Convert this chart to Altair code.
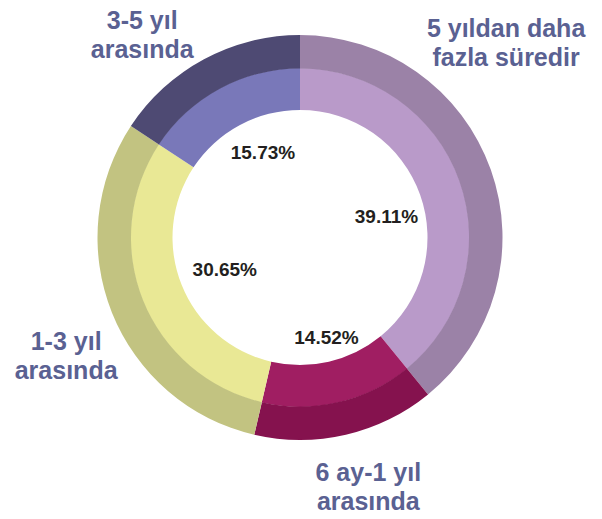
import math
import altair as alt
import pandas as pd

# ---- data ----
categories = ["5 yıldan daha fazla süredir", "6 ay-1 yıl arasında", "1-3 yıl arasında", "3-5 yıl arasında"]
labels = ["5 yıldan daha\nfazla süredir", "6 ay-1 yıl\narasında", "1-3 yıl\narasında", "3-5 yıl\narasında"]
values = [39.11, 14.52, 30.65, 15.73]
pct_text = ["39.11%", "14.52%", "30.65%", "15.73%"]

# ---- style ----
inner_colors = ["#B99AC9", "#A01E62", "#E9E895", "#7978B9"]
outer_colors = ["#9B82A7", "#85124E", "#C2C381", "#4E4A73"]
label_color = "#5A6192"
FONT = "Liberation Sans"
# per-label fine offsets (layout styles)
outer_offsets = {categories[0]: (-20, -128), categories[1]: (14, 2),
                 categories[2]: (-11, 15), categories[3]: (-44, -5)}
pct_offsets = {categories[0]: (-3, 11), categories[1]: (5, 8),
               categories[2]: (13, -3), categories[3]: (8, -1)}

starts, ends = [], []
acc = 0.0
for v in values:
    starts.append(acc)
    acc += v
    ends.append(acc)
total = acc

df = pd.DataFrame({
    "cat": categories,
    "label": labels,
    "value": values,
    "pct": pct_text,
    "start": starts,
    "end": ends,
    "mid": [(s + e) / 2 for s, e in zip(starts, ends)],
})

theta_scale = alt.Scale(domain=[0, total], range=[0, 2 * math.pi], nice=False, zero=True)
base = alt.Chart(df)

inner = base.mark_arc(innerRadius=127.5, outerRadius=169.5).encode(
    theta=alt.Theta("start:Q", scale=theta_scale, stack=None),
    theta2="end:Q",
    color=alt.Color("cat:N", scale=alt.Scale(domain=categories, range=inner_colors), legend=None),
)
outer = base.mark_arc(innerRadius=169, outerRadius=202.5).encode(
    theta=alt.Theta("start:Q", scale=theta_scale, stack=None),
    theta2="end:Q",
    fill=alt.Fill("cat:N", scale=alt.Scale(domain=categories, range=outer_colors), legend=None),
)

layers = [inner, outer]
for c in categories:
    dx, dy = pct_offsets[c]
    layers.append(
        base.transform_filter(alt.datum.cat == c).mark_text(
            radius=95, dx=dx, dy=dy, font=FONT, fontSize=19, fontWeight="bold",
            color="#231F20", align="center", baseline="middle",
        ).encode(theta=alt.Theta("mid:Q", scale=theta_scale, stack=None), text="pct:N")
    )
    ox, oy = outer_offsets[c]
    layers.append(
        base.transform_filter(alt.datum.cat == c).mark_text(
            radius=240, dx=ox, dy=oy, font=FONT, fontSize=25, fontWeight="bold",
            color=label_color, align="center", baseline="middle", lineBreak="\n", lineHeight=29,
        ).encode(theta=alt.Theta("mid:Q", scale=theta_scale, stack=None), text="label:N")
    )

chart = alt.layer(*layers).resolve_scale(color="independent", fill="independent").properties(
    width=584, height=459,
    autosize=alt.AutoSizeParams(type="none"),
    padding={"left": 0, "top": 0, "right": 0, "bottom": 52},
    background="white",
).configure_view(stroke=None)

chart.save("out.html", embed_options={"renderer": "svg", "actions": False})
